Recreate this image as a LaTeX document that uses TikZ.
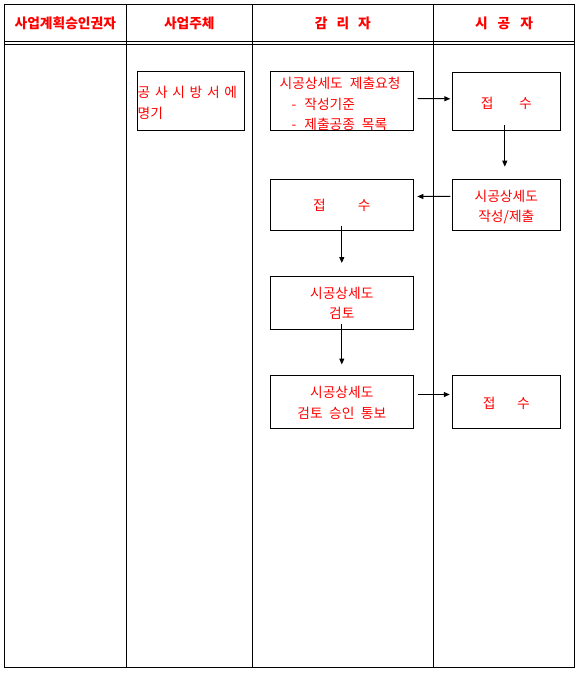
\documentclass[tikz,border=0pt]{standalone}
\usepackage{fontspec}
\newfontfamily\kr{Noto Sans CJK KR}
\usetikzlibrary{arrows.meta}
\begin{document}
\begin{tikzpicture}[x=1pt,y=-1pt,
  grid/.style={line width=1pt},
  box/.style={draw, line width=1pt, inner sep=0pt},
  txt/.style={text=red, inner sep=0pt, font=\kr\fontsize{13.75}{20.3}\selectfont, align=center},
  head/.style={text=red, inner sep=0pt, font=\kr\bfseries\fontsize{13.75}{15}\selectfont},
  arr/.style={line width=1pt, -{Triangle[length=6pt,width=5pt]}}]
\useasboundingbox (0,0) rectangle (582,674);
% table
\draw[grid] (4.3,4.3) rectangle (574.5,667.7);
\draw[grid] (4.3,41.7) -- (574.5,41.7);
\draw[grid] (4.3,44.2) -- (574.5,44.2);
\draw[grid] (126.3,4.3) -- (126.3,667.7);
\draw[grid] (252.3,4.3) -- (252.3,667.7);
\draw[grid] (433.5,4.3) -- (433.5,667.7);
% headers
\node[head] (h1) at (65.3,23.5) {사업계획승인권자};
\node[head] (h2) at (189.3,23.5) {사업주체};
\node[head] (h3) at (342.9,23.5) {감\hspace{9pt}리\hspace{9pt}자};
\node[head] (h4) at (504,23.5) {시\hspace{10pt}공\hspace{10pt}자};
% boxes
\node[box, minimum width=107pt, minimum height=58pt] (A) at (190.5,101) {};
\node[txt, align=left, anchor=west] (At) at ([xshift=1pt,yshift=-2pt]A.west)
  {공\hspace{4.7pt}사\hspace{4.7pt}시\hspace{4.7pt}방\hspace{4.7pt}서\hspace{4.7pt}에\\명기};
\node[box, minimum width=143pt, minimum height=58pt] (B) at (341.7,101) {};
\node[txt, align=left, anchor=west] (Bt) at ([xshift=9.7pt,yshift=-3pt]B.west)
  {시공상세도\hspace{7pt}제출요청\\\hspace*{12pt}-\hspace{8pt}작성기준\\\hspace*{12pt}-\hspace{8pt}제출공종\hspace{7pt}목록};
\node[box, minimum width=108pt, minimum height=58pt] (C) at (506.3,101.3) {};
\node[txt] (Ct) at ([yshift=-2.5pt]C.center) {접\hspace{25.5pt}수};
\node[box, minimum width=108pt, minimum height=51pt] (D) at (506.3,204.7) {};
\node[txt] (Dt) at ([yshift=-2pt]D.center) {시공상세도\\작성/제출};
\node[box, minimum width=143pt, minimum height=51pt] (E) at (341.8,204.8) {};
\node[txt] (Et) at ([yshift=-1pt]E.center) {접\hspace{32pt}수};
\node[box, minimum width=143pt, minimum height=53pt] (F) at (341.8,302.5) {};
\node[txt] (Ft) at ([yshift=-1pt]F.center) {시공상세도\\검토};
\node[box, minimum width=143pt, minimum height=53pt] (G) at (341.8,402) {};
\node[txt] (Gt) at ([yshift=-0.7pt]G.center) {시공상세도\\검토\hspace{6.5pt}승인\hspace{6.5pt}통보};
\node[box, minimum width=108pt, minimum height=53pt] (H) at (506.3,402) {};
\node[txt] (Ht) at ([yshift=-1.5pt]H.center) {접\hspace{21.5pt}수};
% arrows
\draw[arr] ([xshift=4pt,yshift=2.5pt]B.east) -- ([xshift=-1.5pt,yshift=2.5pt]C.west);
\draw[arr] ([xshift=-1.5pt,yshift=6pt]C.south) -- ([xshift=-1.5pt,yshift=12pt]D.north);
\draw[arr] ([xshift=-1.5pt,yshift=8.3pt]D.west) -- ([xshift=3.5pt,yshift=8.3pt]E.east);
\draw[arr] ([yshift=5pt]E.south) -- ([yshift=12.5pt]F.north);
\draw[arr] ([yshift=6pt]F.south) -- ([yshift=10.5pt]G.north);
\draw[arr] ([xshift=4pt,yshift=7.5pt]G.east) -- ([xshift=-2pt,yshift=7.5pt]H.west);
\end{tikzpicture}
\end{document}
